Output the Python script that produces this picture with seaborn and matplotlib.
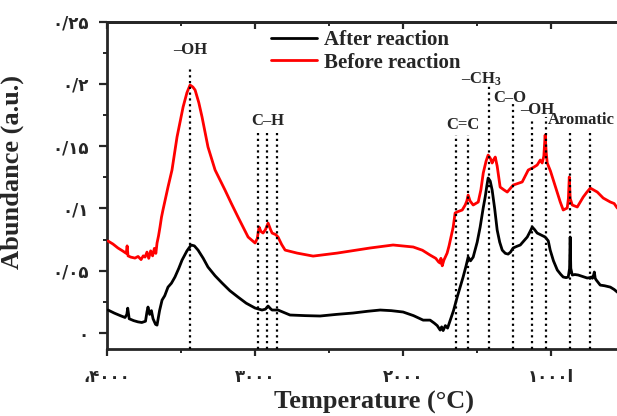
import matplotlib
matplotlib.use("Agg")
import matplotlib.pyplot as plt
import pandas as pd
import seaborn as sns
from matplotlib.ticker import FixedLocator, MultipleLocator, NullFormatter

# FTIR-style spectra, wavenumber (cm-1) vs abundance
wavenumber_after = [3993, 3950, 3910, 3878, 3866, 3860, 3850, 3820, 3791, 3765, 3740, 3730,
                    3723, 3712, 3700, 3689, 3672, 3662, 3645, 3628, 3610, 3588, 3565, 3541,
                    3515, 3493, 3460, 3432, 3410, 3385, 3350, 3318, 3270, 3223, 3170, 3115,
                    3060, 3000, 2953, 2930, 2912, 2895, 2885, 2845, 2797, 2764, 2660, 2561,
                    2450, 2338, 2240, 2155, 2080, 2000, 1930, 1865, 1818, 1790, 1770, 1750,
                    1740, 1730, 1715, 1700, 1682, 1660, 1635, 1615, 1595, 1575, 1561, 1545,
                    1527, 1500, 1480, 1460, 1446, 1435, 1426, 1412, 1399, 1382, 1365, 1348,
                    1331, 1310, 1291, 1275, 1257, 1235, 1209, 1185, 1162, 1145, 1128, 1112,
                    1095, 1065, 1041, 1020, 1007, 985, 959, 935, 919, 900, 885, 876, 872,
                    868, 858, 840, 818, 790, 757, 740, 728, 722, 715, 709, 703, 696, 669,
                    640, 601, 575, 554, 520, 480]
abundance_after = [0.0185, 0.0160, 0.0140, 0.0125, 0.0150, 0.0200, 0.0115, 0.0100, 0.0090, 0.0085,
                   0.0095, 0.0170, 0.0209, 0.0150, 0.0180, 0.0115, 0.0070, 0.0064, 0.0180, 0.0265,
                   0.0300, 0.0369, 0.0400, 0.0450, 0.0520, 0.0586, 0.0660, 0.0707, 0.0700, 0.0666,
                   0.0600, 0.0530, 0.0460, 0.0402, 0.0340, 0.0289, 0.0240, 0.0201, 0.0185, 0.0192,
                   0.0217, 0.0195, 0.0185, 0.0185, 0.0161, 0.0145, 0.0140, 0.0137, 0.0150, 0.0161,
                   0.0175, 0.0185, 0.0180, 0.0169, 0.0140, 0.0104, 0.0104, 0.0080, 0.0060, 0.0024,
                   0.0050, 0.0020, 0.0060, 0.0040, 0.0104, 0.0180, 0.0289, 0.0370, 0.0450, 0.0540,
                   0.0610, 0.0580, 0.0610, 0.0730, 0.0851, 0.1000, 0.1092, 0.1180, 0.1245, 0.1220,
                   0.1148, 0.1000, 0.0827, 0.0730, 0.0666, 0.0640, 0.0634, 0.0650, 0.0683, 0.0695,
                   0.0707, 0.0740, 0.0771, 0.0810, 0.0851, 0.0830, 0.0803, 0.0785, 0.0771, 0.0740,
                   0.0666, 0.0580, 0.0506, 0.0470, 0.0450, 0.0445, 0.0450, 0.0520, 0.0771, 0.0520,
                   0.0466, 0.0470, 0.0466, 0.0455, 0.0442, 0.0445, 0.0450, 0.0440, 0.0460, 0.0490,
                   0.0440, 0.0426, 0.0385, 0.0380, 0.0369, 0.0350, 0.0329, 0.0310, 0.0290]

wavenumber_before = [3993, 3960, 3926, 3895, 3870, 3864, 3858, 3840, 3811, 3790, 3770, 3755,
                     3743, 3730, 3718, 3705, 3692, 3680, 3670, 3662, 3652, 3642, 3632, 3622,
                     3605, 3588, 3561, 3527, 3486, 3460, 3439, 3420, 3405, 3380, 3358, 3318,
                     3270, 3203, 3160, 3115, 3047, 3000, 2985, 2973, 2960, 2946, 2930, 2912,
                     2895, 2885, 2860, 2845, 2820, 2797, 2716, 2608, 2446, 2223, 2068, 1932,
                     1870, 1818, 1780, 1760, 1750, 1745, 1736, 1725, 1715, 1703, 1690, 1675,
                     1662, 1649, 1630, 1601, 1581, 1570, 1561, 1548, 1527, 1493, 1475, 1459,
                     1440, 1426, 1410, 1399, 1390, 1378, 1365, 1345, 1320, 1297, 1257, 1196,
                     1155, 1120, 1095, 1074, 1061, 1050, 1041, 1034, 1027, 1005, 986, 960, 939,
                     919, 892, 884, 878, 872, 858, 824, 800, 784, 760, 736, 715, 689, 649, 601,
                     575, 554, 520, 480]
abundance_before = [0.0739, 0.0715, 0.0683, 0.0660, 0.0640, 0.0700, 0.0620, 0.0610, 0.0602, 0.0615,
                    0.0590, 0.0620, 0.0610, 0.0650, 0.0600, 0.0660, 0.0620, 0.0680, 0.0640, 0.0723,
                    0.0780, 0.0851, 0.0930, 0.0988, 0.1080, 0.1172, 0.1309, 0.1574, 0.1815, 0.1930,
                    0.1991, 0.1975, 0.1951, 0.1850, 0.1734, 0.1494, 0.1309, 0.1148, 0.1040, 0.0931,
                    0.0771, 0.0723, 0.0760, 0.0851, 0.0815, 0.0803, 0.0830, 0.0883, 0.0830, 0.0803,
                    0.0790, 0.0771, 0.0710, 0.0666, 0.0642, 0.0618, 0.0642, 0.0683, 0.0707, 0.0691,
                    0.0665, 0.0626, 0.0600, 0.0570, 0.0562, 0.0600, 0.0540, 0.0585, 0.0610, 0.0642,
                    0.0700, 0.0780, 0.0851, 0.0964, 0.0975, 0.0988, 0.1028, 0.1060, 0.1108, 0.1060,
                    0.1028, 0.1052, 0.1150, 0.1285, 0.1380, 0.1429, 0.1400, 0.1365, 0.1390, 0.1413,
                    0.1340, 0.1172, 0.1150, 0.1132, 0.1188, 0.1213, 0.1309, 0.1330, 0.1349, 0.1389,
                    0.1365, 0.1420, 0.1590, 0.1450, 0.1365, 0.1300, 0.1229, 0.1130, 0.1052, 0.0988,
                    0.1004, 0.1080, 0.1253, 0.1080, 0.1028, 0.1012, 0.1060, 0.1092, 0.1130, 0.1164,
                    0.1150, 0.1132, 0.1084, 0.1052, 0.1040, 0.1004, 0.0980, 0.0960]

# Assigned bands: dotted marker positions and the height each marker reaches
band_positions = [3440, 2980, 2920, 2850, 1640, 1560, 1420, 1260, 1130, 1035, 870, 740]
band_tops = [0.2136, 0.1606, 0.1606, 0.1606, 0.1590, 0.1590, 0.1990, 0.1855, 0.1727,
             0.1734, 0.1630, 0.1630]

band_labels = ["–OH", "C–H", "C=C", "–CH$_3$", "C–O", "–OH", "Aromatic"]
band_label_x = [3439, 2912, 1598, 1470, 1277, 1095, 1020]
band_label_y = [0.2270, 0.1700, 0.1670, 0.2040, 0.1890, 0.1790, 0.1710]
band_label_ha = ["center", "center", "center", "center", "center", "center", "left"]

y_ticks = [0, 0.05, 0.1, 0.15, 0.2, 0.25]
y_tick_labels = ["۰", "۰/۰۵", "۰/۱", "۰/۱۵", "۰/۲", "۰/۲۵"]
x_ticks = [4000, 3000, 2000, 1000]
x_tick_labels = ["،۴۰۰۰", "۳۰۰۰", "۲۰۰۰", "۱۰۰۰ا"]

sns.set_style("ticks")
plt.rcParams["font.family"] = ["Liberation Serif", "DejaVu Sans"]
plt.rcParams["font.weight"] = "bold"
plt.rcParams["mathtext.fontset"] = "custom"
plt.rcParams["mathtext.rm"] = "Liberation Serif:bold"
plt.rcParams["mathtext.it"] = "Liberation Serif:bold"
plt.rcParams["mathtext.bf"] = "Liberation Serif:bold"

df = pd.concat([
    pd.DataFrame({"wavenumber": wavenumber_after, "abundance": abundance_after,
                  "sample": "After reaction"}),
    pd.DataFrame({"wavenumber": wavenumber_before, "abundance": abundance_before,
                  "sample": "Before reaction"}),
], ignore_index=True)

fig = plt.figure(figsize=(6.17, 4.16), dpi=100)
ax = fig.add_axes([0.1734, 0.161, 0.864, 0.787])

sns.lineplot(data=df, x="wavenumber", y="abundance", hue="sample", sort=False,
             estimator=None, palette={"After reaction": "black", "Before reaction": "#ff0000"},
             linewidth=2.0, ax=ax, zorder=3)

ax.set_xlim(4000, 400)
ax.set_ylim(-0.0128, 0.25)

for pos, top in zip(band_positions, band_tops):
    ax.vlines(pos, -0.0128, top, colors="black", linestyles=(0, (1.0, 1.6)),
              linewidth=1.6, zorder=4)

for lab, lx, ly, ha in zip(band_labels, band_label_x, band_label_y, band_label_ha):
    ax.text(lx, ly, lab, ha=ha, va="center", fontsize=12, fontweight="bold",
            family="Liberation Serif", zorder=5)

ax.xaxis.set_major_locator(FixedLocator(x_ticks))
ax.set_xticklabels(x_tick_labels, family="DejaVu Sans", fontsize=12, fontweight="bold")
ax.xaxis.set_minor_locator(MultipleLocator(500))
ax.yaxis.set_major_locator(FixedLocator(y_ticks))
ax.set_yticklabels(y_tick_labels, family="DejaVu Sans", fontsize=12, fontweight="bold")
ax.yaxis.set_minor_locator(MultipleLocator(0.025))

ax.tick_params(axis="both", which="major", direction="out", length=5, width=1.6)
ax.tick_params(axis="both", which="minor", direction="out", length=3, width=1.4)
ax.tick_params(axis="y", which="major", length=6, pad=7)
ax.tick_params(axis="x", which="major", pad=9)

# inward ticks along the top frame
top_axis = ax.secondary_xaxis("top")
top_axis.xaxis.set_major_locator(FixedLocator(x_ticks))
top_axis.xaxis.set_minor_locator(MultipleLocator(500))
top_axis.xaxis.set_major_formatter(NullFormatter())
top_axis.tick_params(which="major", direction="in", length=5, width=1.6)
top_axis.tick_params(which="minor", direction="in", length=3, width=1.4)
top_axis.spines["top"].set_linewidth(2.0)

for side in ["left", "bottom", "top", "right"]:
    ax.spines[side].set_linewidth(2.0)

ax.set_xlabel("Temperature (°C)", fontsize=19, fontweight="bold",
              family="Liberation Serif", labelpad=3)
ax.set_ylabel("Abundance (a.u.)", fontsize=19, fontweight="bold",
              family="Liberation Serif", labelpad=12)
ax.yaxis.set_label_coords(-0.155, 0.54)

handles, labels = ax.get_legend_handles_labels()
ax.legend(handles, labels, loc="upper left", bbox_to_anchor=(261 / 617, 1 - 20 / 416),
          bbox_transform=fig.transFigure, frameon=False, borderpad=0,
          handlelength=2.2, handletextpad=0.3, labelspacing=0.1,
          prop={"family": "Liberation Serif", "weight": "bold", "size": 15})

fig.savefig("out.png", dpi=100)
